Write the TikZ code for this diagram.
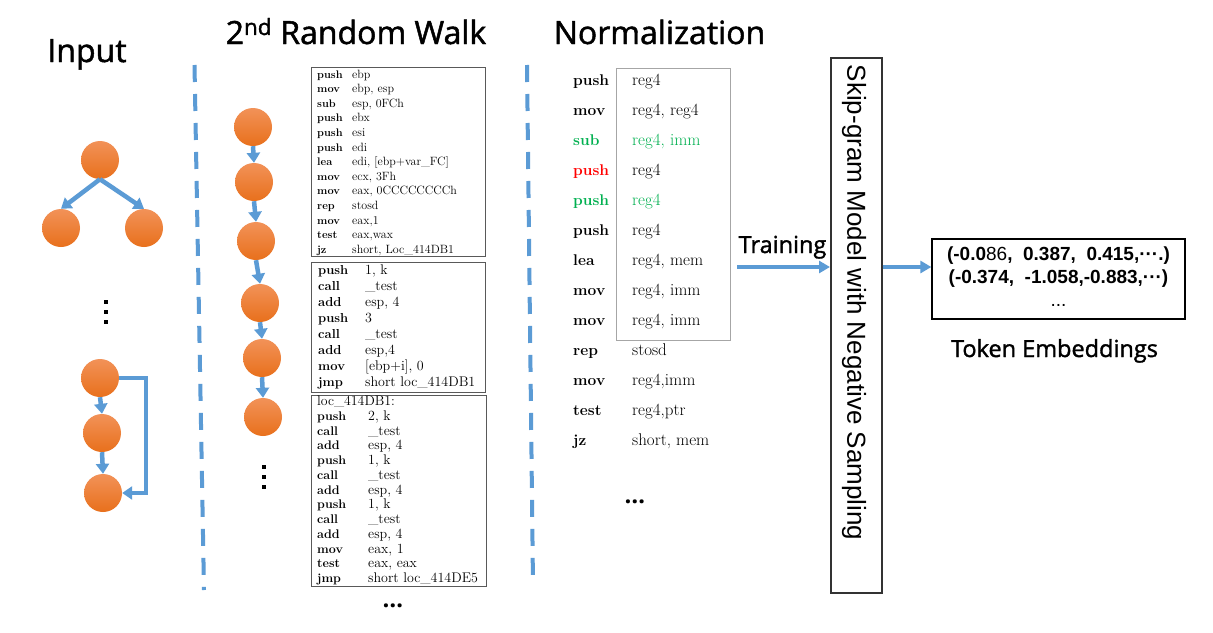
\documentclass[tikz,border=0pt]{standalone}
\usepackage{fontspec}
\usepackage{graphicx}
\usepackage{array}
\newfontface\titlefont{Open Sans}[FakeBold=1.5]
\newfontfamily\dotfont{Open Sans}
\newfontfamily\arialfont{Liberation Sans}
\usetikzlibrary{arrows.meta}
\definecolor{wblue}{HTML}{5B9BD5}
\definecolor{otop}{RGB}{242,146,88}
\definecolor{obot}{RGB}{232,112,28}
\definecolor{ngreen}{HTML}{00B050}
\definecolor{nred}{HTML}{FF0000}
\definecolor{boxgray}{HTML}{595959}
\tikzset{
  ball/.style={circle, minimum size=38pt, inner sep=0pt, top color=otop, bottom color=obot, draw=none},
  blarrow/.style={draw=wblue, line width=4.5pt, -{Triangle[length=10pt,width=13pt]}},
  tarrow/.style={draw=wblue, line width=3.5pt, -{Triangle[length=11pt,width=12pt]}},
  dashline/.style={draw=wblue, line width=4pt, dash pattern=on 17pt off 12pt},
  codebox/.style={draw=boxgray, line width=1.2pt, anchor=north west, inner sep=0pt},
  codetext/.style={anchor=north west, inner sep=0pt, align=left},
  titletext/.style={font=\titlefont\fontsize{32}{36}\selectfont, anchor=base, inner sep=0pt},
  labeltext/.style={font=\titlefont\fontsize{23.5}{26}\selectfont, anchor=base, inner sep=0pt},
  dotstext/.style={font=\dotfont\bfseries\fontsize{24}{24}\selectfont, inner sep=0pt, anchor=base},
  sqdot/.style={fill=black, minimum size=4pt, inner sep=0pt},
}
\begin{document}
\begin{tikzpicture}[x=1pt,y=-1pt]
\useasboundingbox[fill=white] (0,0) rectangle (1213,632);

% titles
\node[titletext] (tinput) at (87,62) {Input};
\node[titletext] (twalk) at (356,44) {2\textsuperscript{nd} Random Walk};
\node[titletext] (tnorm) at (659.5,44) {Normalization};

% dashed separators
\draw[dashline] (194.5,65) -- (204,590);
\draw[dashline] (527,65) -- (533,585);

% input graphs
\node[ball] (t0) at (100,160) {};
\node[ball] (t1) at (61,228) {};
\node[ball] (t2) at (144,228) {};
\draw[blarrow] (t0.south) -- (t1.north);
\draw[blarrow] (t0.south) -- (t2.north);

\node[sqdot] (vd1a) at (106,302) {};
\node[sqdot] (vd1b) at (106,312) {};
\node[sqdot] (vd1c) at (106,322) {};

\node[ball] (b1) at (100,378) {};
\node[ball] (b2) at (102,433) {};
\node[ball] (b3) at (103,493) {};
\draw[blarrow] (b1.south) -- (b2.north);
\draw[blarrow] (b2.south) -- (b3.north);
\draw[blarrow, line width=4pt] (b1.east) -- ++(27,0) |- (b3.east);

% random walk chain
\node[ball] (c1) at (253,127) {};
\node[ball] (c2) at (254,182) {};
\node[ball] (c3) at (256,241) {};
\node[ball] (c4) at (260,303) {};
\node[ball] (c5) at (262,358) {};
\node[ball] (c6) at (263,417) {};
\draw[blarrow] (c1.south) -- (c2.north);
\draw[blarrow] (c2.south) -- (c3.north);
\draw[blarrow] (c3.south) -- (c4.north);
\draw[blarrow] (c4.south) -- (c5.north);
\draw[blarrow] (c5.south) -- (c6.north);
\node[sqdot] (vd2a) at (264,467) {};
\node[sqdot] (vd2b) at (264,477) {};
\node[sqdot] (vd2c) at (264,487) {};

% code boxes
\node[codebox, minimum width=174.5pt, minimum height=189pt] (box1) at (310.5,67) {};
\node[codebox, minimum width=174.5pt, minimum height=130pt] (box2) at (310.5,262) {};
\node[codebox, minimum width=175.5pt, minimum height=191.5pt] (box3) at (310.5,394.5) {};

\node[codetext, font=\fontsize{11}{14.58}\selectfont] (code1) at (317,67.8) {%
\begin{tabular}{@{}>{\bfseries\fontsize{11}{14.58}\selectfont}p{35pt}@{}>{\fontsize{12}{14.58}\selectfont}l@{}}
push & ebp\\
mov & ebp, esp\\
sub & esp, 0FCh\\
push & ebx\\
push & esi\\
push & edi\\
lea & edi, [ebp+var\_FC]\\
mov & ecx, 3Fh\\
mov & eax, 0CCCCCCCCh\\
rep & stosd\\
mov & eax,1\\
test & eax,wax\\
jz & short, Loc\_414DB1
\end{tabular}};

\node[codetext, font=\fontsize{13}{16}\selectfont] (code2) at (318,263.3) {%
\begin{tabular}{@{}>{\bfseries\fontsize{13}{16}\selectfont}p{47pt}@{}>{\fontsize{14}{16}\selectfont}l@{}}
push & 1, k\\
call & \_test\\
add & esp, 4\\
push & 3\\
call & \_test\\
add & esp,4\\
mov & [ebp+i], 0\\
jmp & short loc\_414DB1
\end{tabular}};

\node[codetext, font=\fontsize{12.5}{14.75}\selectfont] (code3) at (317,395.2) {%
\begin{tabular}{@{}>{\bfseries\fontsize{12.5}{14.75}\selectfont}p{51pt}@{}>{\fontsize{14}{14.75}\selectfont}l@{}}
\multicolumn{2}{@{}l@{}}{\fontsize{13.8}{14.75}\selectfont loc\_414DB1:}\\
push & 2, k\\
call & \_test\\
add & esp, 4\\
push & 1, k\\
call & \_test\\
add & esp, 4\\
push & 1, k\\
call & \_test\\
add & esp, 4\\
mov & eax, 1\\
test & eax, eax\\
jmp & short loc\_414DE5
\end{tabular}};
\node[dotstext] (dots3) at (393,607) {…};

% normalization
\node[codebox, draw=gray!70, minimum width=114pt, minimum height=272pt] (nbox) at (616,68) {};
\node[codetext, font=\fontsize{16}{30}\selectfont] (ncode) at (573,64) {%
\begin{tabular}{@{}>{\bfseries\fontsize{15.5}{30}\selectfont}p{59pt}@{}>{\fontsize{17}{30}\selectfont}l@{}}
push & reg4\\
mov & reg4, reg4\\
\textcolor{ngreen}{sub} & \textcolor{ngreen}{reg4, imm}\\
\textcolor{nred}{push} & reg4\\
\textcolor{ngreen}{push} & \textcolor{ngreen}{reg4}\\
push & reg4\\
lea & reg4, mem\\
mov & reg4, imm\\
mov & reg4, imm\\
rep & stosd\\
mov & reg4,imm\\
test & reg4,ptr\\
jz & short, mem
\end{tabular}};
\node[dotstext] (ndots) at (635,503) {…};

% training and model
\node[labeltext] (ttrain) at (782.5,253) {Training};
\node[draw=black!80, line width=1.5pt, minimum width=51pt, minimum height=535pt, inner sep=0pt, anchor=north west] (skip) at (830,57) {};
\node[rotate=-90, inner sep=0pt, font=\arialfont\fontsize{26}{26}\selectfont] (skiptxt) at (854,302.5) {Skip-gram Model with Negative Sampling};
\coordinate (trs) at (737,267);
\draw[tarrow] (trs) -- (trs -| skip.west);

% embeddings
\node[draw=black, line width=1.3pt, minimum width=253pt, minimum height=80pt, inner sep=0pt,
      font=\arialfont\fontsize{19}{23}\selectfont] (emb) at (1058.5,279)
  {\begin{tabular}{@{}c@{}}
   \textbf{(-0.0}86\textbf{,\ \ 0.387,\ \ 0.415,···.)}\\
   \textbf{(-0.374,\ \ -1.058,-0.883,···)}\\
   ...
   \end{tabular}};
\draw[tarrow] (skip.east |- trs) -- (emb.west |- trs);
\node[labeltext] (ttoken) at (1054.5,357) {Token Embeddings};
\end{tikzpicture}
\end{document}
